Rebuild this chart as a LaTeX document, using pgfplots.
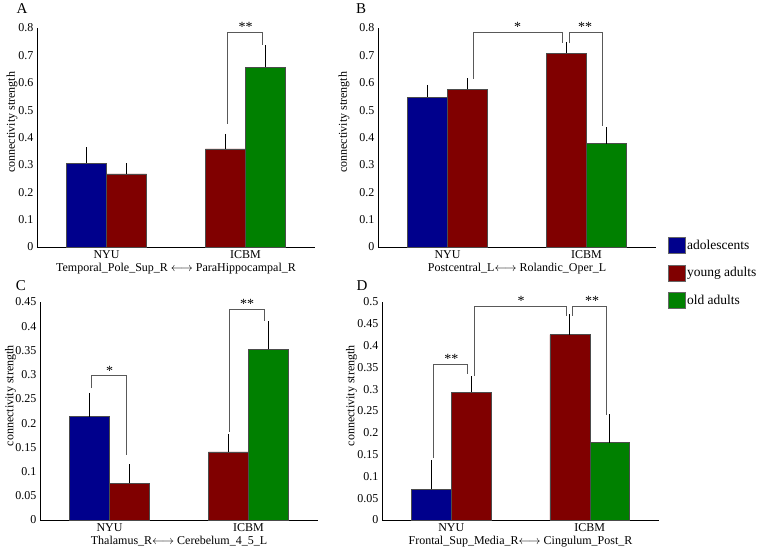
\documentclass[border=0pt]{standalone}
\usepackage{fontspec}
\setmainfont{Liberation Serif}
\usepackage{pgfplots}
\pgfplotsset{compat=1.18}
\definecolor{cblue}{RGB}{0,0,140}
\definecolor{cred}{RGB}{128,0,0}
\definecolor{cgreen}{RGB}{0,128,0}
\tikzset{brk/.style={black!65, line width=0.8pt},
  star/.style={anchor=south, inner sep=0.5pt, font=\fontsize{14}{16}\selectfont}}
\pgfplotsset{
  panel/.style={
    scale only axis, width=278pt,
    axis x line*=bottom, axis y line*=left,
    xmin=0.5, xmax=2.5, ymin=0,
    xtick={1,2}, xticklabels={NYU,ICBM},
    major tick length=0pt,
    clip=false,
    font=\fontsize{12}{14}\selectfont,
    ylabel={connectivity strength},
    ylabel style={at={(rel axis cs:0,0.57)}, anchor=center},
    xlabel style={yshift=2.5pt},
    /pgf/number format/assume math mode=true,
    scaled y ticks=false,
    yticklabel style={/pgf/number format/fixed,/pgf/number format/precision=2},
    axis line style={black, line width=0.6pt},
  },
  mybar/.style={ybar, bar width=0.288, draw=black!70, line width=0.5pt, fill=#1,
    error bars/y dir=plus, error bars/y explicit,
    error bars/error bar style={black, line width=0.7pt},
    error bars/error mark options={black, mark size=1.5pt, line width=0.7pt}},
  sqlegend/.style={legend image code/.code={\draw[##1, draw=black!60] (0pt,-8pt) rectangle (17pt,8pt);}},
}
\begin{document}
\begin{tikzpicture}
\useasboundingbox (0,0) rectangle (762pt,552pt);
% ---------- A ----------
\begin{axis}[panel, at={(37pt,305pt)}, anchor=south west, height=219pt,
  ymax=0.8, ytick={0,0.1,...,0.8}, ylabel style={yshift=25pt},
  xlabel={Temporal\_Pole\_Sup\_R \(\longleftrightarrow\) ParaHippocampal\_R}]
\addplot[mybar=cblue] coordinates {(0.856,0.307) +- (0,0.052)};
\addplot[mybar=cred] coordinates {(1.144,0.267) +- (0,0.034) (1.856,0.358) +- (0,0.050)};
\addplot[mybar=cgreen] coordinates {(2.144,0.658) +- (0,0.073)};
\draw[brk] (axis cs:1.87,0.45) -- (axis cs:1.87,0.784) -- (axis cs:2.12,0.784) -- (axis cs:2.12,0.739);
\node[star] at (axis cs:2.0,0.784) {**};
\end{axis}
% ---------- B ----------
\begin{axis}[panel, at={(378pt,305pt)}, anchor=south west, height=219pt,
  ymax=0.8, ytick={0,0.1,...,0.8}, ylabel style={yshift=34pt},
  xlabel={Postcentral\_L\(\longleftrightarrow\) Rolandic\_Oper\_L},
  legend style={at={(rel axis cs:1.03,0.055)}, anchor=north west, draw=none, fill=none,
    font=\fontsize{13.5}{16}\selectfont, row sep=11pt, legend cell align=left}]
\addplot[mybar=cblue, sqlegend] coordinates {(0.856,0.548) +- (0,0.039)};
\addplot[mybar=cred, sqlegend] coordinates {(1.144,0.576) +- (0,0.035) (1.856,0.708) +- (0,0.036)};
\addplot[mybar=cgreen, sqlegend] coordinates {(2.144,0.378) +- (0,0.054)};
\legend{adolescents, young adults, old adults}
\draw[brk] (axis cs:1.187,0.615) -- (axis cs:1.187,0.784) -- (axis cs:1.828,0.784) -- (axis cs:1.828,0.745);
\node[star] at (axis cs:1.505,0.784) {*};
\draw[brk] (axis cs:1.876,0.745) -- (axis cs:1.876,0.784) -- (axis cs:2.115,0.784) -- (axis cs:2.115,0.441);
\node[star] at (axis cs:1.99,0.784) {**};
\end{axis}
% ---------- C ----------
\begin{axis}[panel, at={(40pt,32pt)}, anchor=south west, height=218pt,
  ymax=0.45, ytick={0,0.05,...,0.45}, ylabel style={yshift=29.5pt},
  xlabel={Thalamus\_R\(\longleftrightarrow\) Cerebelum\_4\_5\_L}]
\addplot[mybar=cblue] coordinates {(0.856,0.2135) +- (0,0.046)};
\addplot[mybar=cred] coordinates {(1.144,0.0758) +- (0,0.036) (1.856,0.1405) +- (0,0.034)};
\addplot[mybar=cgreen] coordinates {(2.144,0.352) +- (0,0.055)};
\draw[brk] (axis cs:0.868,0.272) -- (axis cs:0.868,0.2975) -- (axis cs:1.12,0.2975) -- (axis cs:1.12,0.134);
\node[star] at (axis cs:1.0,0.2975) {*};
\draw[brk] (axis cs:1.863,0.1825) -- (axis cs:1.863,0.435) -- (axis cs:2.113,0.435) -- (axis cs:2.113,0.41);
\node[star] at (axis cs:1.99,0.435) {**};
\end{axis}
% ---------- D ----------
\begin{axis}[panel, at={(382pt,32pt)}, anchor=south west, height=218pt, width=277pt,
  ymax=0.5, ytick={0,0.05,...,0.5}, ylabel style={yshift=30.5pt},
  xlabel={Frontal\_Sup\_Media\_R\(\longleftrightarrow\) Cingulum\_Post\_R}]
\addplot[mybar=cblue] coordinates {(0.856,0.0704) +- (0,0.064)};
\addplot[mybar=cred] coordinates {(1.144,0.2933) +- (0,0.033) (1.856,0.425) +- (0,0.043)};
\addplot[mybar=cgreen] coordinates {(2.144,0.1776) +- (0,0.061)};
\draw[brk] (axis cs:0.87,0.1417) -- (axis cs:0.87,0.358) -- (axis cs:1.12,0.358) -- (axis cs:1.12,0.3346);
\node[star] at (axis cs:1.0,0.358) {**};
\draw[brk] (axis cs:1.168,0.331) -- (axis cs:1.168,0.49) -- (axis cs:1.832,0.49) -- (axis cs:1.832,0.469);
\node[star] at (axis cs:1.505,0.49) {*};
\draw[brk] (axis cs:1.877,0.469) -- (axis cs:1.877,0.49) -- (axis cs:2.12,0.49) -- (axis cs:2.12,0.2397);
\node[star] at (axis cs:2.017,0.49) {**};
\end{axis}
% panel letters
\node[font=\fontsize{15}{18}\selectfont] at (22pt,543pt) {A};
\node[font=\fontsize{15}{18}\selectfont] at (361pt,543pt) {B};
\node[font=\fontsize{15}{18}\selectfont] at (21pt,266pt) {C};
\node[font=\fontsize{15}{18}\selectfont] at (362pt,266pt) {D};
\end{tikzpicture}
\end{document}
